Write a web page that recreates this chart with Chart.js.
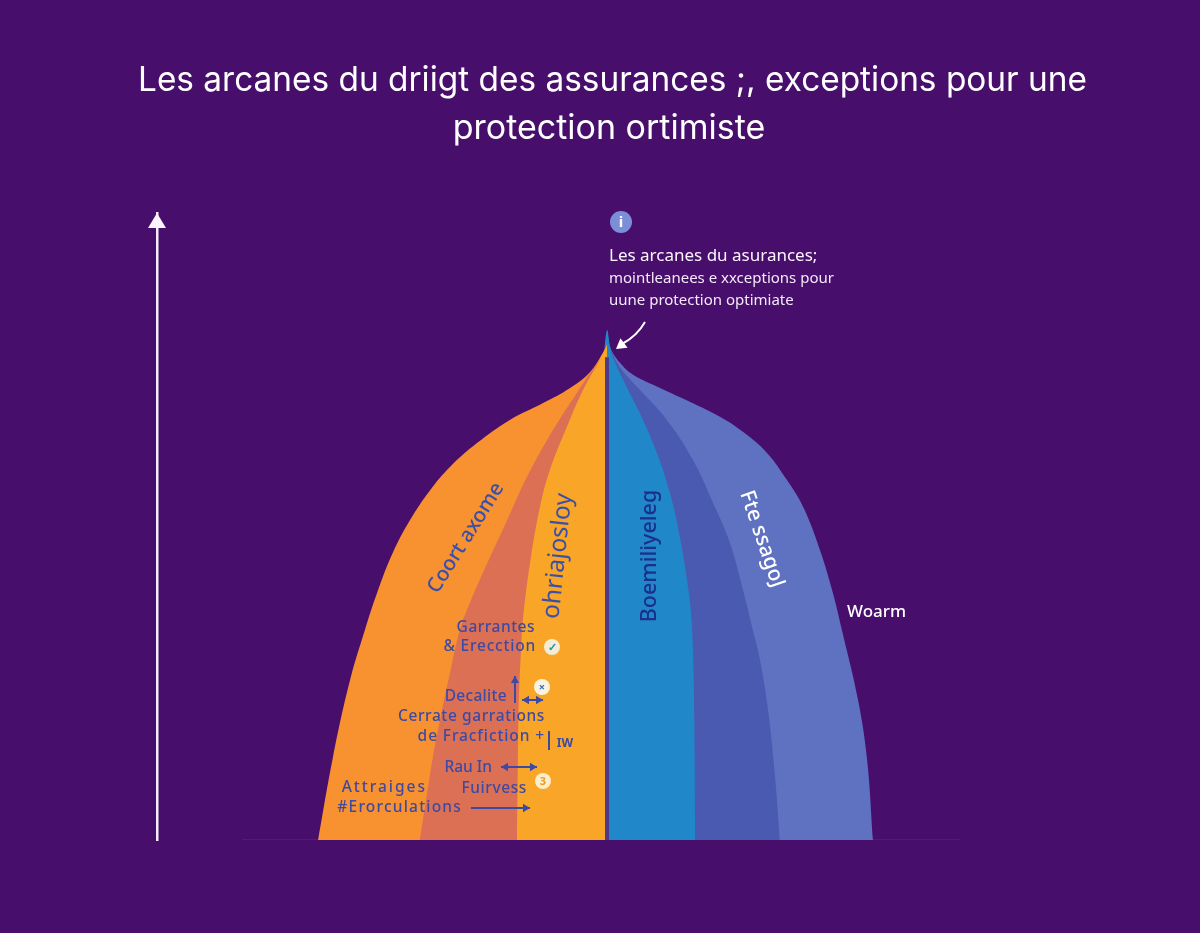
<!DOCTYPE html>
<html lang="fr">
<head>
    <meta charset="UTF-8">
    <title>Les arcanes du droit des assurances</title>
    <script src="https://cdn.jsdelivr.net/npm/chart.js"></script>
    <style>
        html, body { margin: 0; padding: 0; background: #470e6c; }
        canvas { display: block; }
    </style>
</head>
<body>
    <canvas id="domeChart" width="1200" height="933"></canvas>

    <script>
        const titleLines = ['Les arcanes du driigt des assurances ;, exceptions pour une', 'protection ortimiste'];

        // bandes de gauche
        const orangeX = [-64.2, -60.9, -57.1, -53.8, -51.1, -47.6, -43.8, -39.3, -34.9, -28.9, -21.6, -14.2, -8.2, -3.8, -0.9, 0];
        const orangeY = [0, 13.2, 25.5, 33.5, 39.4, 45.8, 51, 55.8, 59.5, 63.3, 67, 69.7, 72.1, 74.6, 77.7, 79];
        const salmonX = [-41.6, -40.2, -38.7, -36.9, -34.9, -32.7, -30.2, -27.6, -22.2, -17.8, -12, -6.7, -2.2, -0.4, 0];
        const salmonY = [0, 6.4, 13.2, 19.9, 26.6, 33.5, 38.3, 42.6, 51, 57.9, 65.4, 71.3, 76.1, 77.8, 79];
        const yellowX = [-20, -19.8, -19.6, -19.1, -18.7, -17.1, -14.9, -12.7, -8.9, -5.3, -1.6, 0];
        const yellowY = [0, 13.2, 22.3, 30.3, 35.1, 44.2, 53.1, 59, 65.9, 71.8, 76.6, 79];

        // bandes de droite
        const blueX = [-0.8, 0, 0.7, 1.3, 4.4, 8, 11.1, 14, 16.2, 18, 18.7, 19.1, 19.4, 19.6];
        const blueY = [76.5, 81.3, 78.6, 77, 72.2, 67, 61.7, 55.3, 48.3, 40.4, 35.9, 30.3, 19.1, 0];
        const indigoX = [0, 0.7, 2.9, 7.3, 13.3, 19.1, 23.6, 27.3, 30.2, 32.4, 34, 35.8, 37.3, 38.4];
        const indigoY = [81.3, 78.6, 75.4, 71.8, 67, 60.6, 53.7, 47.4, 39.9, 33.5, 28.7, 20.7, 10.4, 0];
        const periX = [0, 0.7, 2.9, 5.8, 11.8, 18.4, 25.1, 30.2, 35.6, 40, 43.6, 47.3, 50.2, 52.2, 55.8, 57.8, 59.1];
        const periY = [81.3, 78.6, 76.1, 74.2, 72.1, 69.9, 67.5, 65.1, 61.7, 57.4, 53.1, 46.3, 39.4, 33.5, 22.3, 12.8, 0];

        const centerX = [0, 0];
        const centerY = [0, 77];
        const baseX = [-81, 78.4];
        const baseY = [0, 0];

        const FONT = '"Noto Sans", sans-serif';
        const INK = '#3d4aa3';

        // texte : [chaine, x, y, taille, couleur, alignement, rotation en degres, graisse, espacement]
        const notes = [
            ['Les arcanes du asurances;', 609, 256, 17, '#fbf6fd', 'left', 0, 400, 0],
            ['mointleanees e xxceptions pour', 609, 279, 15, '#f3e9f8', 'left', 0, 400, 0],
            ['uune protection optimiate', 609, 301, 15, '#f3e9f8', 'left', 0, 400, 0],
            ['Woarm', 847, 612, 17, '#ffffff', 'left', 0, 500, 0],
            ['Coort axome', 466, 538, 20.5, '#3a50a8', 'center', -58, 500, 0],
            ['ohriajosloy', 558, 556, 24.5, '#3a50a8', 'center', -84, 400, 0],
            ['Boemiliyeleg', 650, 556, 21.5, '#1b2f8c', 'center', -90, 500, 0],
            ['Fte ssagoJ', 762, 539, 21, '#ffffff', 'center', 71, 500, 0],
            ['Garrantes', 535, 628, 15.5, INK, 'right', 0, 500, 0.5],
            ['& Erecction', 536, 647, 15.5, INK, 'right', 0, 500, 0.8],
            ['Decalite', 507, 697, 15.5, INK, 'right', 0, 500, 0.3],
            ['Cerrate garrations', 545, 717, 15.5, INK, 'right', 0, 500, 0.6],
            ['de Fracfiction +', 545, 737, 15.5, INK, 'right', 0, 500, 0.9],
            ['Rau In', 492, 768, 15.5, INK, 'right', 0, 500, 0],
            ['Fuirvess', 527, 789, 15.5, INK, 'right', 0, 500, 0.6],
            ['Attraiges', 427, 788, 15.5, INK, 'right', 0, 500, 2],
            ['#Erorculations', 462, 808, 15.5, INK, 'right', 0, 500, 1.2],
            ['IW', 565, 744, 12, '#3d4aa3', 'center', 0, 700, 0]
        ];

        function toPoints(xs, ys) {
            return xs.map((x, i) => ({ x: x, y: ys[i] }));
        }

        function band(xs, ys, color) {
            return {
                data: toPoints(xs, ys),
                backgroundColor: color,
                borderWidth: 0,
                pointRadius: 0,
                fill: 'origin',
                tension: 0.4
            };
        }

        function arrowHead(ctx, x, y, angle, size) {
            ctx.save();
            ctx.translate(x, y);
            ctx.rotate(angle);
            ctx.beginPath();
            ctx.moveTo(0, 0);
            ctx.lineTo(-size, -size * 0.6);
            ctx.lineTo(-size, size * 0.6);
            ctx.closePath();
            ctx.fill();
            ctx.restore();
        }

        function arrow(ctx, x1, y1, x2, y2, both) {
            const a = Math.atan2(y2 - y1, x2 - x1);
            ctx.beginPath();
            ctx.moveTo(x1, y1);
            ctx.lineTo(x2, y2);
            ctx.stroke();
            arrowHead(ctx, x2, y2, a, 7);
            if (both) arrowHead(ctx, x1, y1, a + Math.PI, 7);
        }

        function badge(ctx, x, y, r, fill, text, color) {
            ctx.fillStyle = fill;
            ctx.beginPath();
            ctx.arc(x, y, r, 0, Math.PI * 2);
            ctx.fill();
            ctx.fillStyle = color;
            ctx.font = '700 ' + Math.round(r * 1.4) + 'px ' + FONT;
            ctx.textAlign = 'center';
            ctx.textBaseline = 'middle';
            ctx.fillText(text, x, y + 0.5);
        }

        const decorations = {
            id: 'decorations',
            afterDatasetsDraw(chart) {
                const ctx = chart.ctx;
                const yScale = chart.scales.y;
                ctx.save();

                // titre : pas centre sur la page, donc pas le plugin title
                ctx.font = '400 34px Inter, sans-serif';
                ctx.fillStyle = '#ffffff';
                ctx.textAlign = 'center';
                ctx.textBaseline = 'middle';
                ctx.fillText(titleLines[0], 612.5, 81, 949);
                ctx.fillText(titleLines[1], 609, 129);

                // fleche de l'axe
                ctx.fillStyle = '#fbf3fd';
                arrowHead(ctx, yScale.right, yScale.getPixelForValue(100), Math.PI / -2, 15);

                // textes
                notes.forEach(n => {
                    ctx.save();
                    ctx.translate(n[1], n[2]);
                    ctx.rotate(n[6] * Math.PI / 180);
                    ctx.font = n[7] + ' ' + n[3] + 'px ' + FONT;
                    ctx.letterSpacing = n[8] + 'px';
                    ctx.fillStyle = n[4];
                    ctx.textAlign = n[5];
                    ctx.textBaseline = 'middle';
                    ctx.fillText(n[0], 0, 0);
                    ctx.restore();
                });

                // pastille du haut
                badge(ctx, 621, 222, 11, '#7b8fd9', 'i', '#ffffff');

                // fleche vers le sommet
                ctx.strokeStyle = '#ffffff';
                ctx.fillStyle = '#ffffff';
                ctx.lineWidth = 2;
                ctx.beginPath();
                ctx.moveTo(645, 322);
                ctx.quadraticCurveTo(637, 336, 622, 344);
                ctx.stroke();
                arrowHead(ctx, 616, 349, 2.5, 10);

                // petites fleches
                ctx.strokeStyle = INK;
                ctx.fillStyle = INK;
                ctx.lineWidth = 2;
                arrow(ctx, 515, 703, 515, 676, false);
                arrow(ctx, 522, 700, 543, 700, true);
                arrow(ctx, 501, 767, 537, 767, true);
                arrow(ctx, 471, 808, 530, 808, false);
                ctx.beginPath();
                ctx.moveTo(549, 731);
                ctx.lineTo(549, 750);
                ctx.stroke();

                // icones
                badge(ctx, 552, 647, 8, '#f4ecd6', '\u2713', '#1f9aa3');
                badge(ctx, 542, 687, 8, '#fbf3e2', '\u00d7', '#3d6fb0');
                badge(ctx, 543, 781, 8, '#fbeecb', '3', '#ee9a24');

                ctx.restore();
            }
        };

        new Chart(document.getElementById('domeChart'), {
            type: 'line',
            data: {
                datasets: [
                    {
                        data: toPoints(centerX, centerY),
                        borderColor: '#4f3a85',
                        borderWidth: 4,
                        pointRadius: 0,
                        fill: false
                    },
                    band(yellowX, yellowY, '#f9a527'),
                    band(salmonX, salmonY, '#dc7055'),
                    band(orangeX, orangeY, '#f8912f'),
                    band(blueX, blueY, '#2088c8'),
                    band(indigoX, indigoY, '#4a5ab0'),
                    band(periX, periY, '#5f71c1'),
                    {
                        data: toPoints(baseX, baseY),
                        borderColor: '#5a2a80',
                        borderWidth: 1,
                        pointRadius: 0,
                        fill: false
                    }
                ]
            },
            options: {
                responsive: false,
                animation: false,
                layout: { padding: { top: 213, left: 149, right: 134, bottom: 93 } },
                plugins: {
                    legend: { display: false },
                    tooltip: { enabled: false }
                },
                scales: {
                    x: { type: 'linear', min: -100, max: 102, display: false },
                    y: {
                        min: 0,
                        max: 100,
                        grid: { display: false },
                        ticks: { display: false },
                        border: { color: '#f6ecfa', width: 2.5 }
                    }
                }
            },
            plugins: [decorations]
        });
    </script>
</body>
</html>
